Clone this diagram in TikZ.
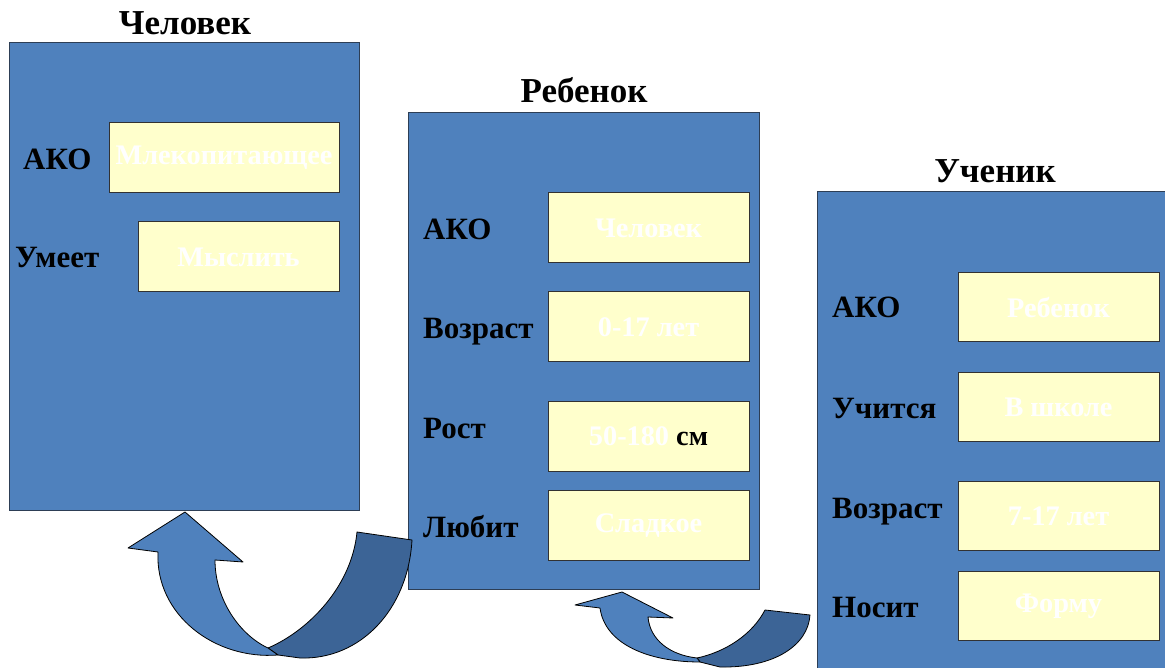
\documentclass[tikz,border=0pt]{standalone}
\usepackage{fontspec}
\setmainfont{Liberation Serif}
\definecolor{frameblue}{RGB}{79,129,189}
\definecolor{framedraw}{RGB}{45,62,85}
\definecolor{boxyellow}{RGB}{255,255,204}
\definecolor{boxdraw}{RGB}{50,50,50}
\definecolor{arrowdark}{RGB}{60,100,150}
\tikzset{
  frame/.style={draw=framedraw, fill=frameblue, line width=1pt, inner sep=0pt},
  slot/.style={draw=boxdraw, fill=boxyellow, line width=1pt, inner sep=0pt,
    text=white, font=\fontsize{28.3}{30}\selectfont\bfseries},
  title/.style={anchor=base, inner sep=0pt, font=\fontsize{35}{38}\selectfont\bfseries},
  lab/.style={anchor=base west, inner sep=0pt, font=\fontsize{31}{34}\selectfont\bfseries},
  arrlight/.style={fill=frameblue, draw=black, line width=0.8pt, line join=round},
  arrdark/.style={fill=arrowdark, draw=black, line width=0.8pt, line join=round}
}
\begin{document}
\begin{tikzpicture}[x=1pt,y=-1pt]
\useasboundingbox (0,0) rectangle (1165,668);
\clip (0,0) rectangle (1165,668);
\fill[white] (0,0) rectangle (1165,668);
% frames
\node[frame, minimum width=350pt, minimum height=467pt] (f1) at (184,276.5) {};
\node[frame, minimum width=351pt, minimum height=476pt] (f2) at (583.5,351) {};
\node[frame, minimum width=363pt, minimum height=498pt] (f3) at (998.5,441) {};
% titles
\node[title] (t1) at (185,35) {Человек};
\node[title] (t2) at (584,103) {Ребенок};
\node[title] (t3) at (995,183) {Ученик};
% frame 1
\node[slot, minimum width=230pt, minimum height=70pt] (b11) at (224,158) {Млекопитающее};
\node[slot, minimum width=201pt, minimum height=70pt] (b12) at (238.5,257) {Мыслить};
\node[lab] (l11) at (23,170) {АКО};
\node[lab] (l12) at (15,268) {Умеет};
% frame 2
\node[slot, minimum width=201pt, minimum height=70pt] (b21) at (648.5,228) {Человек};
\node[slot, minimum width=201pt, minimum height=70pt] (b22) at (648.5,327) {0-17 лет};
\node[slot, minimum width=201pt, minimum height=70pt] (b23) at (648.5,436.5) {50-180 \textcolor{black}{см}};
\node[slot, minimum width=201pt, minimum height=70pt] (b24) at (648.5,525.5) {Сладкое};
\node[lab] (l21) at (423,240) {АКО};
\node[lab] (l22) at (423,338) {Возраст};
\node[lab] (l23) at (423,438) {Рост};
\node[lab] (l24) at (423,537) {Любит};
% frame 3
\node[slot, minimum width=201pt, minimum height=69pt] (b31) at (1058.5,307.5) {Ребенок};
\node[slot, minimum width=201pt, minimum height=69pt] (b32) at (1058.5,407) {В школе};
\node[slot, minimum width=201pt, minimum height=69pt] (b33) at (1058.5,516) {7-17 лет};
\node[slot, minimum width=201pt, minimum height=69pt] (b34) at (1058.5,606) {Форму};
\node[lab] (l31) at (832,318) {АКО};
\node[lab] (l32) at (832,418) {Учится};
\node[lab] (l33) at (832,518) {Возраст};
\node[lab] (l34) at (832,617) {Носит};
% curved arrow Ребенок -> Человек
\draw[arrdark] (357,532) -- (412,540) .. controls (408,610) and (360,660) .. (300,658)
  -- (278,655) -- (268,648) .. controls (310,630) and (352,585) .. (357,532) -- cycle;
\draw[arrlight] (185,512) -- (243,562) -- (215,560) .. controls (215,600) and (240,635) .. (268,648)
  -- (278,655) .. controls (215,660) and (155,615) .. (158,552) -- (128,548) -- cycle;
% curved arrow Ученик -> Ребенок
\draw[arrdark] (765,610) -- (810,615) .. controls (808,645) and (775,668) .. (720,667)
  -- (700,662) -- (697,658) .. controls (725,652) and (752,635) .. (765,610) -- cycle;
\draw[arrlight] (622,592) -- (673,618) -- (648,617) .. controls (650,640) and (670,655) .. (697,658)
  -- (700,662) .. controls (650,662) and (605,645) .. (600,608) -- (575,605) -- cycle;
\end{tikzpicture}
\end{document}
